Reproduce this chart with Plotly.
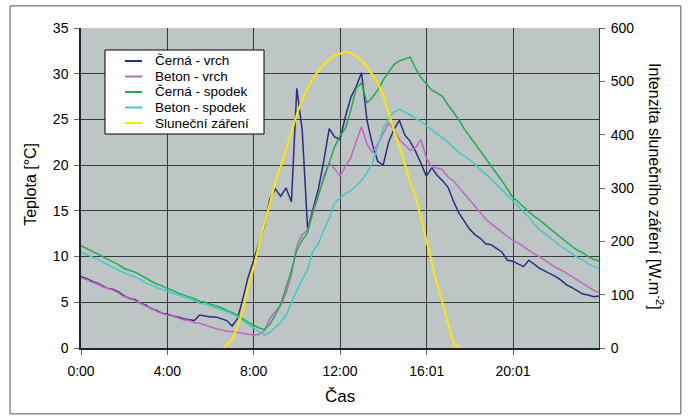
import plotly.graph_objects as go

# time in hours (15-min steps)
t = [i * 0.25 for i in range(97)]

cerna_vrch = [7.8, 7.6, 7.3, 7.1, 6.8, 6.5, 6.4, 6.1, 5.7, 5.4, 5.3, 4.9, 4.7, 4.3, 4.1, 3.8,
              3.7, 3.5, 3.4, 3.2, 3.1, 3.0, 3.6, 3.5, 3.4, 3.4, 3.2, 3.0, 2.4, 3.2, 5.4, 7.8,
              9.6, 11.4, 13.4, 16.3, 17.4, 16.6, 17.5, 16.0, 28.4, 23.8, 13.0, 15.2, 17.4, 20.5, 24.0, 23.1,
              22.8, 25.3, 27.4, 28.6, 30.1, 24.9, 22.3, 20.4, 20.0, 22.5, 23.9, 24.9, 23.3, 22.6, 21.5, 20.2,
              18.8, 19.7, 18.9, 18.3, 17.6, 16.1, 14.8, 13.9, 13.0, 12.4, 12.0, 11.4, 11.3, 10.9, 10.5, 9.6,
              9.5, 9.2, 8.9, 9.6, 9.1, 8.7, 8.4, 8.1, 7.8, 7.4, 6.9, 6.6, 6.2, 5.9, 5.8, 5.6, 5.7]

beton_vrch = [7.7, 7.5, 7.2, 7.0, 6.7, 6.5, 6.3, 6.0, 5.6, 5.5, 5.2, 4.9, 4.6, 4.4, 4.0, 3.8,
              3.6, 3.5, 3.3, 3.1, 3.0, 2.8, 2.7, 2.5, 2.3, 2.1, 2.0, 1.8, 1.8, 1.7, 1.6, 1.5,
              1.4, 1.5, 1.9, 3.2, 4.0, 4.6, 6.0, 8.0, 11.2, 12.4, 12.9, 14.8, 16.6, 18.8, 20.2, 19.6,
              18.8, 19.9, 20.8, 22.6, 24.2, 22.3, 21.4, 22.3, 23.5, 24.6, 23.9, 22.8, 22.2, 21.6, 21.9, 22.8,
              20.8, 19.8, 19.7, 19.5, 18.7, 18.3, 17.6, 16.9, 16.2, 15.6, 14.8, 14.1, 13.6, 13.1, 12.6, 12.2,
              11.8, 11.5, 11.1, 10.7, 10.3, 10.0, 9.6, 9.2, 8.8, 8.5, 8.2, 7.8, 7.4, 7.0, 6.6, 6.3, 6.1]

cerna_spodek = [11.2, 10.9, 10.6, 10.3, 10.0, 9.7, 9.4, 9.1, 8.7, 8.5, 8.3, 8.0, 7.6, 7.3, 7.0, 6.8,
                6.5, 6.3, 6.0, 5.8, 5.6, 5.4, 5.1, 5.0, 4.8, 4.6, 4.4, 4.1, 3.9, 3.6, 3.2, 2.8,
                2.5, 2.2, 2.0, 2.6, 3.6, 4.8, 6.6, 8.5, 10.7, 11.8, 12.6, 15.0, 16.8, 18.6, 20.3, 22.0,
                23.2, 24.0, 26.0, 28.4, 29.0, 26.8, 27.4, 28.2, 29.3, 30.2, 31.0, 31.4, 31.6, 31.8, 30.6, 29.6,
                28.9, 28.2, 27.9, 27.5, 26.6, 25.8, 25.0, 24.0, 23.2, 22.4, 21.6, 20.8, 19.9, 19.1, 18.3, 17.4,
                16.5, 16.0, 15.4, 14.9, 14.4, 14.0, 13.5, 13.0, 12.5, 12.0, 11.5, 11.1, 10.7, 10.4, 10.0, 9.7, 9.5]

beton_spodek = [10.5, 10.2, 10.0, 9.7, 9.4, 9.1, 8.8, 8.5, 8.2, 8.0, 7.8, 7.5, 7.1, 6.9, 6.6, 6.4,
                6.2, 6.0, 5.8, 5.6, 5.4, 5.2, 4.9, 4.8, 4.6, 4.4, 4.2, 4.0, 3.7, 3.4, 3.0, 2.6,
                2.2, 1.8, 1.4, 1.7, 2.2, 2.8, 3.6, 5.0, 6.3, 7.5, 8.6, 10.6, 11.4, 12.9, 14.2, 15.9,
                16.4, 16.9, 17.2, 17.8, 18.3, 19.2, 20.2, 22.0, 24.0, 25.1, 25.8, 26.1, 25.8, 25.5, 25.1, 24.8,
                24.3, 23.9, 23.4, 23.0, 22.5, 21.9, 21.4, 21.0, 20.6, 20.1, 19.5, 19.0, 18.5, 17.9, 17.4, 16.8,
                16.2, 15.6, 14.9, 14.3, 13.6, 12.9, 12.5, 12.0, 11.6, 11.1, 10.7, 10.3, 9.9, 9.6, 9.2, 8.9, 8.7]

sun_t = [6.6, 7.0, 7.25, 7.5, 7.75, 8.0, 8.25, 8.5, 8.75, 9.0, 9.25, 9.5, 9.75, 10.0, 10.25,
         10.5, 10.75, 11.0, 11.25, 11.5, 11.75, 12.0, 12.25, 12.5, 12.75, 13.0, 13.25, 13.5,
         13.75, 14.0, 14.25, 14.5, 14.75, 15.0, 15.25, 15.5, 15.75, 16.0, 16.25, 16.5, 16.75,
         17.0, 17.25, 17.45, 17.6]
slunecni = [0, 15, 40, 71, 115, 150, 195, 235, 275, 310, 340, 371, 405, 438, 465,
            487, 505, 520, 532, 540, 548, 552, 556, 553, 547, 540, 527, 512,
            497, 474, 440, 408, 378, 345, 312, 285, 243, 203, 160, 120, 85,
            45, 10, 2, 0]

series_names = ["Černá - vrch", "Beton - vrch", "Černá - spodek", "Beton - spodek", "Sluneční záření"]

x_tickvals = [0, 4, 8, 12, 16.0167, 20.0167]
x_ticktext = ["0:00", "4:00", "8:00", "12:00", "16:01", "20:01"]

FONT = "Liberation Sans, Arial, sans-serif"
colors = ["#2B2B88", "#C068C0", "#1FAE4E", "#45C8C8", "#FFE600"]
widths = [1.5, 1.5, 1.5, 1.5, 2]

fig = go.Figure()
temp_series = [cerna_vrch, beton_vrch, cerna_spodek, beton_spodek]
for i, ys in enumerate(temp_series):
    fig.add_trace(go.Scatter(x=t, y=ys, name=series_names[i], mode="lines",
                             line=dict(color=colors[i], width=widths[i]), showlegend=False))
fig.add_trace(go.Scatter(x=sun_t, y=slunecni, name=series_names[4], mode="lines",
                         yaxis="y2", line=dict(color=colors[4], width=widths[4]), showlegend=False))

# legend box (drawn in paper coordinates)
shapes = [
    dict(type="rect", xref="paper", yref="paper",
         x0=-0.137, x1=1.158, y0=-0.206, y1=1.069,
         line=dict(color="#555555", width=1), layer="below"),
    dict(type="rect", xref="paper", yref="paper",
         x0=0.0463, x1=0.3533, y0=0.66875, y1=0.93125,
         fillcolor="white", line=dict(color="black", width=1), layer="above"),
]
annotations = []
row_y = [0.8969, 0.8484, 0.8000, 0.7516, 0.7031]
for i, name in enumerate(series_names):
    shapes.append(dict(type="line", xref="paper", yref="paper",
                       x0=0.0849, x1=0.1178, y0=row_y[i], y1=row_y[i],
                       line=dict(color=colors[i], width=2), layer="above"))
    annotations.append(dict(text=name, xref="paper", yref="paper", x=0.139, y=row_y[i],
                            xanchor="left", yanchor="middle", showarrow=False,
                            font=dict(size=13.5, color="black")))

annotations += [
    dict(text="Teplota [°C]", xref="paper", yref="paper", x=-0.0965, y=0.51,
         xanchor="center", yanchor="middle",
         textangle=-90, showarrow=False, font=dict(size=16)),
    dict(text="Intenzita slunečního záření [W.m<sup>-2</sup>]", xref="paper", yref="paper",
         x=1.110, y=0.503, xanchor="center", yanchor="middle",
         textangle=90, showarrow=False, font=dict(size=16)),
    dict(text="Čas", xref="paper", yref="paper", x=0.5, y=-0.153,
         xanchor="center", yanchor="middle",
         showarrow=False, font=dict(size=17)),
]

fig.update_layout(
    width=688, height=416, autosize=False,
    margin=dict(l=81, r=89, t=28, b=68),
    paper_bgcolor="white", plot_bgcolor="#BDC5C5",
    font=dict(family=FONT, size=14, color="black"),
    showlegend=False,
    xaxis=dict(range=[0, 24], tickvals=x_tickvals, ticktext=x_ticktext,
               showgrid=True, gridcolor="#3A3A3A", gridwidth=1,
               showline=True, linecolor="#222233", linewidth=1.5,
               ticks="outside", ticklen=5, tickcolor="#666666",
               zeroline=False, ticklabelstandoff=4),
    yaxis=dict(range=[0, 35], tickvals=[0, 5, 10, 15, 20, 25, 30, 35],
               showgrid=True, gridcolor="#3A3A3A", gridwidth=1,
               showline=True, linecolor="#222233", linewidth=1.5,
               ticks="outside", ticklen=5, tickcolor="#666666",
               zeroline=False, ticklabelstandoff=3),
    yaxis2=dict(range=[0, 600], tickvals=[0, 100, 200, 300, 400, 500, 600],
                overlaying="y", side="right", showgrid=False,
                showline=True, linecolor="#333344", linewidth=1,
                ticks="outside", ticklen=5, tickcolor="#666666",
                zeroline=False, ticklabelstandoff=3),
    shapes=shapes,
    annotations=annotations,
)

fig.write_html("out.html",
               config={"displayModeBar": False},
               post_script="document.body.style.margin='0';document.body.style.overflow='hidden';")
